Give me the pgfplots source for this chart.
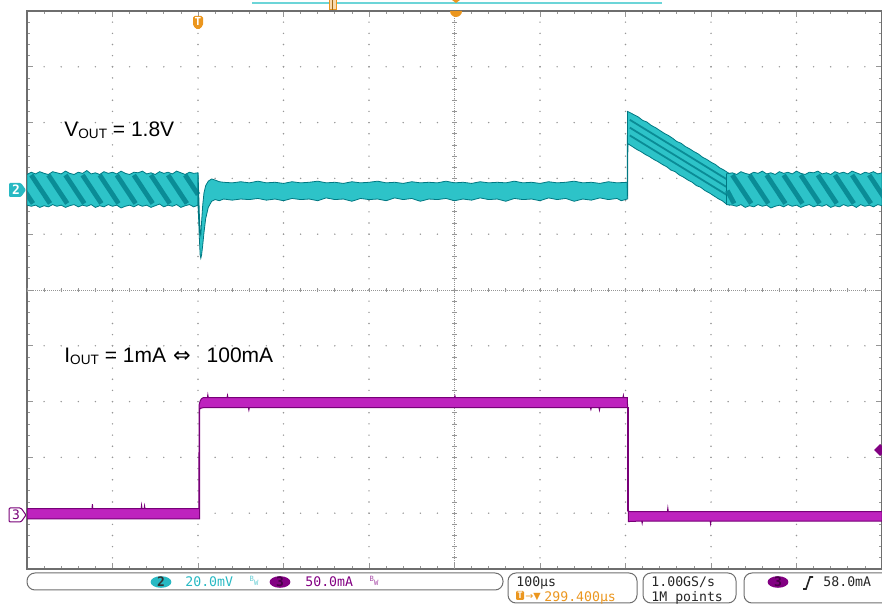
\documentclass[border=0pt]{standalone}
\usepackage{pgfplots}
\pgfplotsset{compat=1.18}
\usepackage{fontspec}
\setmainfont{Liberation Sans}
\newfontfamily\mono{DejaVu Sans Mono}
\newfontfamily\djv{DejaVu Sans}
\definecolor{cyL}{RGB}{45,195,200}
\definecolor{cyD}{RGB}{10,140,150}
\definecolor{cyE}{RGB}{0,120,130}
\definecolor{cyT}{RGB}{40,185,195}
\definecolor{mgL}{RGB}{190,35,190}
\definecolor{mgD}{RGB}{120,0,120}
\definecolor{mgT}{RGB}{130,0,130}
\definecolor{org}{RGB}{235,150,30}
\definecolor{grd}{RGB}{150,150,150}
\definecolor{brd}{RGB}{110,110,110}

\begin{document}
\begin{tikzpicture}[x=0.5pt,y=0.5pt]
\begin{axis}[
  at={(13.5pt,17.5pt)}, anchor=south west, scale only axis,
  width=427.5pt, height=279pt,
  xmin=-200, xmax=800, ymin=-5, ymax=5,
  xtick={-200,-100,...,800}, ytick={-5,-4,...,5},
  minor x tick num=4, minor y tick num=4,
  xticklabels={}, yticklabels={},
  major tick length=3pt, minor tick length=1.6pt,
  tick style={grd, line width=0.4pt},
  axis line style={brd, line width=0.6pt},
  xmajorgrids, ymajorgrids,
  x grid style={grd, line width=0.8pt, line cap=round, dash pattern=on 0pt off 5.58pt},
  y grid style={grd, line width=0.8pt, line cap=round, dash pattern=on 0pt off 8.55pt},
  unbounded coords=jump,
]
% centre cross of the graticule
\draw[grd, line width=0.4pt, dash pattern=on 0.5pt off 0.5pt]
  (axis cs:-200,0) -- (axis cs:800,0) (axis cs:300,-5) -- (axis cs:300,5);
\pgfplotsinvokeforeach{-25,...,25}{
  \draw[grd, line width=0.4pt] (axis cs:{300+20*#1},-0.04) -- (axis cs:{300+20*#1},0.04);
  \draw[grd, line width=0.4pt] (axis cs:297.4,{0.2*#1}) -- (axis cs:302.6,{0.2*#1});
}

% CH2 output voltage (divisions), light load ripple before the step
\addplot[fill=cyL, draw=cyE, line width=0.4pt] coordinates {
(-200,2.07)(-195,2.11)(-190,2.08)(-185,2.12)(-180,2.09)(-175,2.07)(-170,2.12)(-165,2.10)
(-160,2.08)(-155,2.13)(-150,2.09)(-145,2.07)(-140,2.11)(-135,2.09)(-130,2.14)(-125,2.08)
(-120,2.10)(-115,2.07)(-110,2.12)(-105,2.09)(-100,2.11)(-95,2.08)(-90,2.13)(-85,2.09)
(-80,2.07)(-75,2.11)(-70,2.10)(-65,2.13)(-60,2.08)(-55,2.10)(-50,2.07)(-45,2.12)
(-40,2.09)(-35,2.11)(-30,2.08)(-25,2.13)(-20,2.10)(-15,2.07)(-10,2.11)(-5,2.09)(0,2.10)
(0,1.52)(-5,1.49)(-10,1.53)(-15,1.51)(-20,1.48)(-25,1.53)(-30,1.50)(-35,1.52)(-40,1.49)
(-45,1.54)(-50,1.51)(-55,1.48)(-60,1.52)(-65,1.50)(-70,1.53)(-75,1.49)(-80,1.52)(-85,1.50)
(-90,1.47)(-95,1.52)(-100,1.50)(-105,1.53)(-110,1.49)(-115,1.51)(-120,1.48)(-125,1.53)
(-130,1.50)(-135,1.52)(-140,1.49)(-145,1.53)(-150,1.51)(-155,1.48)(-160,1.52)(-165,1.50)
(-170,1.53)(-175,1.49)(-180,1.51)(-185,1.48)(-190,1.52)(-195,1.50)(-200,1.52)
} -- cycle;
% ripple stripes
\addplot[cyD, line width=2.4pt] coordinates {
(-215,2.06)(-193,1.55)(-190,nan)(-195,2.06)(-173,1.55)(-170,nan)(-175,2.06)(-153,1.55)(-150,nan)
(-155,2.06)(-133,1.55)(-130,nan)(-135,2.06)(-113,1.55)(-110,nan)(-115,2.06)(-93,1.55)(-90,nan)
(-95,2.06)(-73,1.55)(-70,nan)(-75,2.06)(-53,1.55)(-50,nan)(-55,2.06)(-33,1.55)(-30,nan)
(-35,2.06)(-13,1.55)(-10,nan)(-15,2.06)(0,1.71)
};

% CH2 undershoot and heavy load
\addplot[fill=cyL, draw=cyE, line width=0.4pt] coordinates {
(0,2.10)(0.8,1.75)(1.6,1.35)(2.5,1.05)(3.3,0.98)(4.2,1.22)(5.5,1.52)(7,1.74)(9,1.87)
(12,1.95)(16,1.99)(20,1.97)(25,1.94)(30,1.93)(40,1.92)(50,1.94)(60,1.92)(70,1.95)(80,1.92)
(90,1.93)(100,1.91)(110,1.94)(120,1.92)(130,1.93)(140,1.95)(150,1.92)(160,1.93)(170,1.91)
(180,1.94)(190,1.92)(200,1.93)(210,1.95)(220,1.92)(230,1.93)(240,1.91)(250,1.94)(260,1.92)
(270,1.93)(280,1.92)(290,1.95)(300,1.92)(310,1.93)(320,1.91)(330,1.94)(340,1.92)(350,1.93)
(360,1.92)(370,1.95)(380,1.92)(390,1.93)(400,1.91)(410,1.94)(420,1.92)(430,1.93)(440,1.95)
(450,1.92)(460,1.93)(470,1.91)(480,1.94)(490,1.92)(502,1.93)
(502,1.63)(495,1.60)(490,1.64)(480,1.62)(470,1.65)(460,1.61)(450,1.63)(440,1.59)(430,1.64)
(420,1.62)(410,1.65)(400,1.60)(390,1.63)(380,1.62)(370,1.64)(360,1.59)(350,1.63)(340,1.62)
(330,1.65)(320,1.61)(310,1.63)(300,1.60)(290,1.64)(280,1.62)(270,1.63)(260,1.59)(250,1.64)
(240,1.62)(230,1.65)(220,1.60)(210,1.63)(200,1.62)(190,1.64)(180,1.59)(170,1.63)(160,1.62)
(150,1.65)(140,1.60)(130,1.63)(120,1.62)(110,1.64)(100,1.60)(90,1.63)(80,1.61)(70,1.64)
(60,1.62)(50,1.63)(40,1.61)(30,1.63)(25,1.60)(20,1.62)(16,1.59)(12,1.48)(9,1.28)(7,1.03)
(5.5,0.80)(4.2,0.63)(3.3,0.57)(2.5,0.63)(1.6,0.92)(0.8,1.25)(0,1.52)
} -- cycle;

% CH2 overshoot and decay after the load release
\addplot[fill=cyL, draw=cyE, line width=0.4pt] coordinates {
(502,1.93)(502.3,3.20)(505,3.18)(510,3.14)(515,3.10)(520,3.04)(525,3.01)(530,2.95)(535,2.91)
(540,2.86)(545,2.81)(550,2.77)(555,2.72)(560,2.66)(565,2.63)(570,2.57)(575,2.53)(580,2.48)
(585,2.44)(590,2.38)(595,2.34)(600,2.29)(605,2.25)(610,2.19)(615,2.15)(620,2.10)(624,2.07)
(622,1.52)(618,1.54)(613,1.60)(608,1.64)(603,1.69)(598,1.74)(593,1.78)(588,1.84)(583,1.87)
(578,1.93)(573,1.97)(568,2.02)(563,2.06)(558,2.12)(553,2.15)(548,2.21)(543,2.25)(538,2.30)
(533,2.34)(528,2.39)(523,2.43)(518,2.48)(513,2.52)(508,2.57)(503,2.62)(502.6,2.40)(502.6,1.63)
} -- cycle;
\addplot[cyD, line width=0.9pt] coordinates {
(505,3.05)(622,1.95)(623,nan)(505,2.91)(622,1.81)(623,nan)(505,2.77)(622,1.67)
};

% CH2 light load ripple after the transient
\addplot[fill=cyL, draw=cyE, line width=0.4pt] coordinates {
(618,2.08)(625,2.10)(630,2.07)(635,2.12)(640,2.09)(645,2.07)(650,2.11)(655,2.09)(660,2.13)
(665,2.08)(670,2.10)(675,2.07)(680,2.12)(685,2.09)(690,2.11)(695,2.08)(700,2.13)(705,2.09)
(710,2.07)(715,2.11)(720,2.10)(725,2.13)(730,2.08)(735,2.10)(740,2.07)(745,2.12)(750,2.09)
(755,2.11)(760,2.08)(765,2.13)(770,2.10)(775,2.07)(780,2.11)(785,2.09)(790,2.12)(795,2.08)(800,2.10)
(800,1.51)(795,1.53)(790,1.49)(785,1.52)(780,1.50)(775,1.53)(770,1.48)(765,1.52)(760,1.50)
(755,1.53)(750,1.49)(745,1.51)(740,1.48)(735,1.53)(730,1.50)(725,1.52)(720,1.49)(715,1.53)
(710,1.51)(705,1.48)(700,1.52)(695,1.50)(690,1.53)(685,1.49)(680,1.52)(675,1.50)(670,1.47)
(665,1.52)(660,1.50)(655,1.53)(650,1.49)(645,1.51)(640,1.48)(635,1.53)(630,1.50)(625,1.52)(618,1.53)
} -- cycle;
\addplot[cyD, line width=2.4pt] coordinates {
(619,1.78)(627,1.55)(630,nan)(625,2.06)(647,1.55)(650,nan)(645,2.06)(667,1.55)(670,nan)
(665,2.06)(687,1.55)(690,nan)(685,2.06)(707,1.55)(710,nan)(705,2.06)(727,1.55)(730,nan)
(725,2.06)(747,1.55)(750,nan)(745,2.06)(767,1.55)(770,nan)(765,2.06)(787,1.55)(790,nan)
(785,2.06)(807,1.55)
};

% CH3 load current (divisions)
\addplot[fill=mgL, draw=mgD, line width=0.5pt] coordinates {
(-200,-3.92)(-124,-3.92)(-123.5,-3.84)(-123,-3.92)(-66.5,-3.92)(-66,-3.86)(-65.5,-3.92)
(-63,-3.92)(-62.5,-3.87)(-62,-3.92)(1.0,-3.92)(1.3,-2.06)(2.5,-1.99)(4,-1.95)(6,-1.93)
(11,-1.93)(11.5,-1.88)(12,-1.93)(34,-1.93)(34.5,-1.89)(35,-1.93)(300,-1.93)(300.5,-1.90)(301,-1.93)
(497,-1.93)(497.5,-1.89)(498,-1.93)(502.3,-1.93)(502.6,-3.96)(505,-3.97)
(549,-3.97)(549.5,-3.91)(550,-3.97)(800,-3.97)
(800,-4.14)(600,-4.14)(599.5,-4.19)(599,-4.14)(520,-4.14)(519.5,-4.18)(519,-4.14)(503.2,-4.15)
(503.2,-2.11)(470,-2.11)(469.5,-2.15)(469,-2.11)(460,-2.11)(459.5,-2.14)(459,-2.11)
(60,-2.11)(59.5,-2.15)(59,-2.11)(6,-2.11)(3,-2.12)(1.9,-2.14)(1.9,-4.10)(-200,-4.10)
} -- cycle;
\end{axis}

\begin{scope}[shift={(0,302pt)}, y=-0.5pt]
% annotations
\node[anchor=base west, inner sep=0pt, font=\fontsize{10.5}{12}\selectfont] at (64,137)
  {V\raisebox{-1pt}{\fontsize{6.8}{7}\selectfont OUT} = 1.8V};
\node[anchor=base west, inner sep=0pt, font=\fontsize{10.5}{12}\selectfont] at (64,363)
  {I\raisebox{-1pt}{\fontsize{6.8}{7}\selectfont OUT} = 1mA\hspace{3.5pt}{\djv ⇔}\hspace{8pt}100mA};

% channel ground markers
\fill[cyT, rounded corners=0.6pt] (9,183) -- (21,183) -- (26,190) -- (21,197) -- (9,197) -- cycle;
\node[text=white, font=\mono\bfseries\fontsize{6.5}{7}\selectfont] at (16,190) {2};
\draw[mgD, fill=white, line width=0.5pt, rounded corners=0.6pt] (9,508) -- (21,508) -- (26,515) -- (21,522) -- (9,522) -- cycle;
\node[text=mgD, font=\mono\fontsize{6.5}{7}\selectfont] at (16,515) {3};
% trigger level marker
\fill[mgT] (874,450) -- (880,444) -- (886,450) -- (880,456) -- cycle;

% top indicators
\draw[cyL!70!white, line width=0.7pt] (252,3) -- (662,3);
\draw[org, fill=org!35, line width=0.5pt] (329,0) rectangle (336,10);
\draw[org!70!black, line width=0.4pt] (332.5,0) -- (332.5,10);
\fill[org] (452,0) -- (460,0) -- (456,3) -- cycle;
\fill[org] (450,11) arc[start angle=180, end angle=360, radius=3pt] -- cycle;
\fill[org, rounded corners=0.8pt] (193,16) -- (203,16) -- (203,26) -- (198,30) -- (193,26) -- cycle;
\node[text=white, font=\mono\bfseries\fontsize{5.5}{6}\selectfont] at (198,21.5) {T};

% status bar
\begin{scope}[brd, line width=0.5pt, rounded corners=4pt]
\draw (27,573) rectangle (503,590);
\draw (508,573) rectangle (637,603);
\draw (643,573) rectangle (736,603);
\draw (744,573) rectangle (900,603);
\end{scope}
\fill[cyT] (161,582) ellipse [x radius=5.2pt, y radius=2.9pt];
\node[text=black!80, font=\mono\bfseries\fontsize{6.5}{7}\selectfont] at (161,582) {2};
\node[anchor=base west, inner sep=0pt, text=cyT, font=\mono\fontsize{6.6}{7}\selectfont] at (185,586) {20.0mV};
\node[text=cyT!70, font=\mono\fontsize{3.6}{4}\selectfont, inner sep=0pt] at (254,581)
  {\raisebox{1pt}{B}\raisebox{-0.8pt}{W}};
\fill[mgT] (280,582) ellipse [x radius=5.2pt, y radius=2.9pt];
\node[text=mgD!60!black, font=\mono\bfseries\fontsize{6.5}{7}\selectfont] at (280,582) {3};
\node[anchor=base west, inner sep=0pt, text=mgT, font=\mono\fontsize{6.6}{7}\selectfont] at (305,586) {50.0mA};
\node[text=mgT!70, font=\mono\fontsize{3.6}{4}\selectfont, inner sep=0pt] at (374,581)
  {\raisebox{1pt}{B}\raisebox{-0.8pt}{W}};

\node[anchor=base west, inner sep=0pt, text=black!85, font=\mono\fontsize{6.6}{7}\selectfont] at (516,586) {100µs};
\fill[org, rounded corners=0.6pt] (516,591) rectangle (524,600);
\node[text=white, font=\mono\bfseries\fontsize{4.5}{5}\selectfont] at (520,595.5) {T};
\node[anchor=base west, inner sep=0pt, text=org, font=\djv\fontsize{4.8}{5}\selectfont] at (525,600) {→▼};
\node[anchor=base west, inner sep=0pt, text=org, font=\mono\fontsize{6.6}{7}\selectfont] at (544,601) {299.400µs};

\node[anchor=base west, inner sep=0pt, text=black!85, font=\mono\fontsize{6.6}{7}\selectfont] at (651,586) {1.00GS/s};
\node[anchor=base west, inner sep=0pt, text=black!85, font=\mono\fontsize{6.6}{7}\selectfont] at (651,601) {1M points};

\fill[mgT] (778,582) ellipse [x radius=5.2pt, y radius=2.9pt];
\node[text=mgD!60!black, font=\mono\bfseries\fontsize{6.5}{7}\selectfont] at (778,582) {3};
\draw[black!85, line width=0.8pt] (803,589) -- (806,589) -- (810,577) -- (813,577);
\node[anchor=base west, inner sep=0pt, text=black!85, font=\mono\fontsize{6.6}{7}\selectfont] at (823,586) {58.0mA};
\end{scope}

\pgfresetboundingbox
\path[use as bounding box] (0,0) rectangle (441pt,302pt);
\end{tikzpicture}
\end{document}
